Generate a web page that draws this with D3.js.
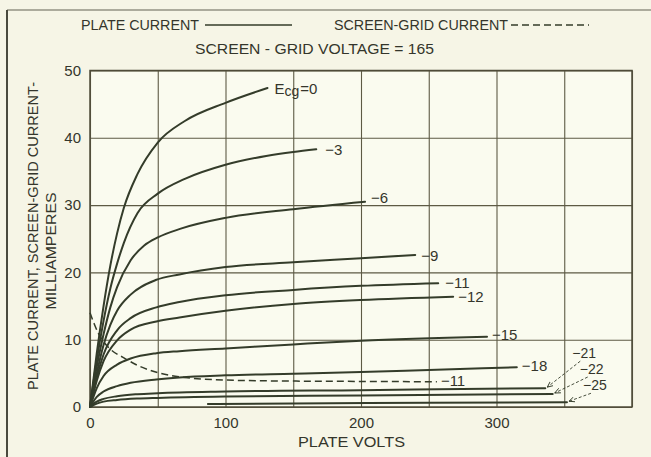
<!DOCTYPE html>
<html>
<head>
<meta charset="utf-8">
<script src="https://cdn.jsdelivr.net/npm/d3@7"></script>
<style>
  html, body { margin: 0; padding: 0; background: #f6f5e6; }
  svg { display: block; }
  text { font-family: "Liberation Sans", Arial, sans-serif; fill: #34352b; }
</style>
</head>
<body>
<svg id="chart" width="651" height="457"></svg>
<script>
// Plate characteristics of a screen-grid tube, screen-grid voltage = 165.
// Each plate-current curve is a list of [plate volts, milliamperes].
const gridVoltageLabels = ["Ecg=0", "−3", "−6", "−9", "−11", "−12", "−15", "−18", "−21", "−22", "−25"];

const plateEcg0   = [[0,0],[5,8],[10,15],[15,21],[20,25.8],[25,29.6],[35,34.6],[50,39.3],[70,42.5],[100,45.2],[131,47.4]];
const plateEcgM3  = [[0,0],[5,7],[10,12.8],[15,17.6],[20,21.3],[25,24.4],[35,28.8],[50,31.7],[70,33.9],[100,36.0],[130,37.3],[150,37.9],[167,38.3]];
const plateEcgM6  = [[0,0],[5,6],[10,10.8],[15,14.8],[20,17.8],[30,21.8],[40,24.0],[50,25.2],[67,26.5],[100,28.1],[150,29.4],[203,30.5]];
const plateEcgM9  = [[0,0],[5,5],[10,9.2],[15,12.2],[20,14.3],[30,16.7],[49,18.9],[66,19.7],[100,20.8],[150,21.5],[200,22.1],[240,22.6]];
const plateEcgM11 = [[0,0],[5,4.4],[10,7.8],[20,11.4],[30,13.2],[49,14.8],[66,15.6],[100,16.6],[150,17.4],[200,18.0],[257,18.4]];
const plateEcgM12 = [[0,0],[5,3.9],[10,6.8],[20,9.9],[30,11.5],[49,12.7],[66,13.3],[100,14.3],[150,15.3],[200,15.9],[268,16.4]];
const plateEcgM15 = [[0,0],[5,2.8],[10,4.6],[20,6.3],[30,7.2],[49,8.0],[66,8.3],[100,8.7],[150,9.3],[200,9.85],[293,10.45]];
const plateEcgM18 = [[0,0],[5,1.5],[10,2.3],[20,3.1],[30,3.6],[49,4.1],[66,4.4],[100,4.7],[150,4.95],[200,5.2],[250,5.5],[315,5.9]];
const plateEcgM21 = [[0,0],[5,0.8],[10,1.2],[20,1.6],[35,1.9],[50,2.05],[100,2.3],[200,2.5],[336,2.8]];
const plateEcgM22 = [[0,0],[5,0.5],[10,0.8],[20,1.05],[35,1.25],[50,1.35],[100,1.55],[200,1.7],[341.5,1.93]];
const plateEcgM25 = [[87,0.45],[150,0.52],[250,0.62],[352,0.7]];

// Screen-grid current at Ecg = -11
const screenEcgM11 = [[0,14.0],[3,12.4],[6,11.0],[10,9.7],[15,8.6],[25,7.3],[35,6.2],[50,5.1],[70,4.4],[100,4.0],[150,3.85],[200,3.8],[256,3.75]];
const screenLabel = "−11";

const voltTicks = [0, 50, 100, 150, 200, 250, 300, 350, 400];
const voltTickLabels = [0, 100, 200, 300];
const currentTicks = [0, 10, 20, 30, 40, 50];

const plateCurves = [plateEcg0, plateEcgM3, plateEcgM6, plateEcgM9, plateEcgM11, plateEcgM12,
                     plateEcgM15, plateEcgM18, plateEcgM21, plateEcgM22, plateEcgM25];

// label placement relative to the end of each curve (pixels): [dx, baseline dy, arrow]
const labelPlacement = [
  [7, 6, false], [9, 6, false], [6, 1, false], [6, 6, false], [7, 5, false], [5, 5, false],
  [5, 3, false], [5, 4, false], [27, -30, true], [27, -20, true], [16, -12, true]
];

const svg = d3.select("#chart");
const plotLeft = 90, plotRight = 632, plotTop = 70.5, plotBottom = 407;

const x = d3.scaleLinear().domain([0, 400]).range([plotLeft, plotRight]);
const y = d3.scaleLinear().domain([0, 50]).range([plotBottom, plotTop]);

const ink = "#343c2a";
const gridInk = "#5d5a44";

// outer frame (top and left rule)
svg.append("line").attr("x1", 7).attr("x2", 651).attr("y1", 10).attr("y2", 10)
  .attr("stroke", "#6a6a5a").attr("stroke-width", 1.5).attr("opacity", 0.7);
svg.append("line").attr("x1", 7).attr("x2", 7).attr("y1", 10).attr("y2", 457)
  .attr("stroke", "#4a4a3e").attr("stroke-width", 2);

// plot background
svg.append("rect").attr("x", plotLeft).attr("y", plotTop)
  .attr("width", plotRight - plotLeft).attr("height", plotBottom - plotTop).attr("fill", "#fafbef");

// grid + axes
const xAxis = d3.axisBottom(x).tickValues(voltTicks)
  .tickSize(-(plotBottom - plotTop)).tickPadding(10)
  .tickFormat(d => voltTickLabels.includes(d) ? String(d) : "");
const gx = svg.append("g").attr("transform", `translate(0,${plotBottom})`).call(xAxis);

const yAxis = d3.axisLeft(y).tickValues(currentTicks)
  .tickSize(-(plotRight - plotLeft)).tickPadding(9);
const gy = svg.append("g").attr("transform", `translate(${plotLeft},0)`).call(yAxis);

[gx, gy].forEach(g => {
  g.select(".domain").remove();
  g.selectAll(".tick line").attr("stroke", gridInk).attr("stroke-width", 1.1);
  g.selectAll(".tick text").attr("font-size", 15)
    .attr("font-family", "Liberation Sans, Arial, sans-serif").attr("fill", "#34352b");
});

// plot frame
svg.append("rect").attr("x", plotLeft).attr("y", plotTop)
  .attr("width", plotRight - plotLeft).attr("height", plotBottom - plotTop)
  .attr("fill", "none").attr("stroke", "#4e4b38").attr("stroke-width", 1.5);

// curves
const line = d3.line().x(d => x(d[0])).y(d => y(d[1])).curve(d3.curveMonotoneX);

svg.append("g").selectAll("path").data(plateCurves).join("path")
  .attr("d", line).attr("fill", "none").attr("stroke", ink)
  .attr("stroke-width", 2).attr("stroke-linecap", "round");

svg.append("path").datum(screenEcgM11).attr("d", line)
  .attr("fill", "none").attr("stroke", ink).attr("stroke-width", 1.5)
  .attr("stroke-dasharray", "7,4");

// arrowhead marker for the crowded labels
svg.append("defs").append("marker")
  .attr("id", "arrow").attr("viewBox", "0 0 10 10").attr("refX", 9).attr("refY", 5)
  .attr("markerWidth", 7).attr("markerHeight", 7).attr("orient", "auto")
  .append("path").attr("d", "M0,1 L9,5 L0,9").attr("fill", "none")
  .attr("stroke", ink).attr("stroke-width", 1.4);

// curve labels
const labels = svg.append("g").attr("font-size", 15);
plateCurves.forEach((c, i) => {
  const end = c[c.length - 1];
  const ex = x(end[0]), ey = y(end[1]);
  const [dx, dy, arrow] = labelPlacement[i];
  const t = labels.append("text").attr("x", ex + dx).attr("y", ey + dy);
  if (i === 0) {
    t.append("tspan").text("E");
    t.append("tspan").attr("font-size", 14).attr("dy", 2).text("cg");
    t.append("tspan").attr("dy", -2).attr("dx", 1).text("=0");
  } else {
    t.attr("font-size", arrow ? 14 : 15).text(gridVoltageLabels[i]);
  }
  if (arrow) {
    svg.append("line")
      .attr("x1", ex + dx + 8).attr("y1", ey + dy + 3)
      .attr("x2", ex + 2).attr("y2", ey - 1)
      .attr("stroke", ink).attr("stroke-width", 0.9)
      .attr("stroke-dasharray", "3,2").attr("marker-end", "url(#arrow)");
  }
});
{
  const end = screenEcgM11[screenEcgM11.length - 1];
  labels.append("text").attr("x", x(end[0]) + 4).attr("y", y(end[1]) + 4).text(screenLabel);
}

// legend
const legend = svg.append("g").attr("font-size", 14);
legend.append("text").attr("x", 81).attr("y", 30).attr("textLength", 118)
  .attr("lengthAdjust", "spacingAndGlyphs").text("PLATE CURRENT");
legend.append("line").attr("x1", 205).attr("x2", 292).attr("y1", 25).attr("y2", 25)
  .attr("stroke", ink).attr("stroke-width", 1.5);
legend.append("text").attr("x", 334).attr("y", 30).attr("textLength", 174)
  .attr("lengthAdjust", "spacingAndGlyphs").text("SCREEN-GRID CURRENT");
legend.append("line").attr("x1", 511).attr("x2", 589).attr("y1", 25).attr("y2", 25)
  .attr("stroke", ink).attr("stroke-width", 1.5).attr("stroke-dasharray", "7,4");
legend.append("text").attr("x", 195).attr("y", 54).attr("textLength", 239)
  .attr("lengthAdjust", "spacingAndGlyphs").text("SCREEN - GRID  VOLTAGE = 165");

// axis titles
svg.append("text").attr("x", 351.5).attr("y", 447).attr("text-anchor", "middle")
  .attr("font-size", 15).attr("textLength", 107).attr("lengthAdjust", "spacingAndGlyphs")
  .text("PLATE VOLTS");
svg.append("text").attr("transform", "translate(38,236) rotate(-90)")
  .attr("text-anchor", "middle").attr("font-size", 14)
  .attr("textLength", 308).attr("lengthAdjust", "spacingAndGlyphs")
  .text("PLATE CURRENT, SCREEN-GRID CURRENT-");
svg.append("text").attr("transform", "translate(56,251) rotate(-90)")
  .attr("text-anchor", "middle").attr("font-size", 14)
  .attr("textLength", 117).attr("lengthAdjust", "spacingAndGlyphs")
  .text("MILLIAMPERES");
</script>
</body>
</html>
